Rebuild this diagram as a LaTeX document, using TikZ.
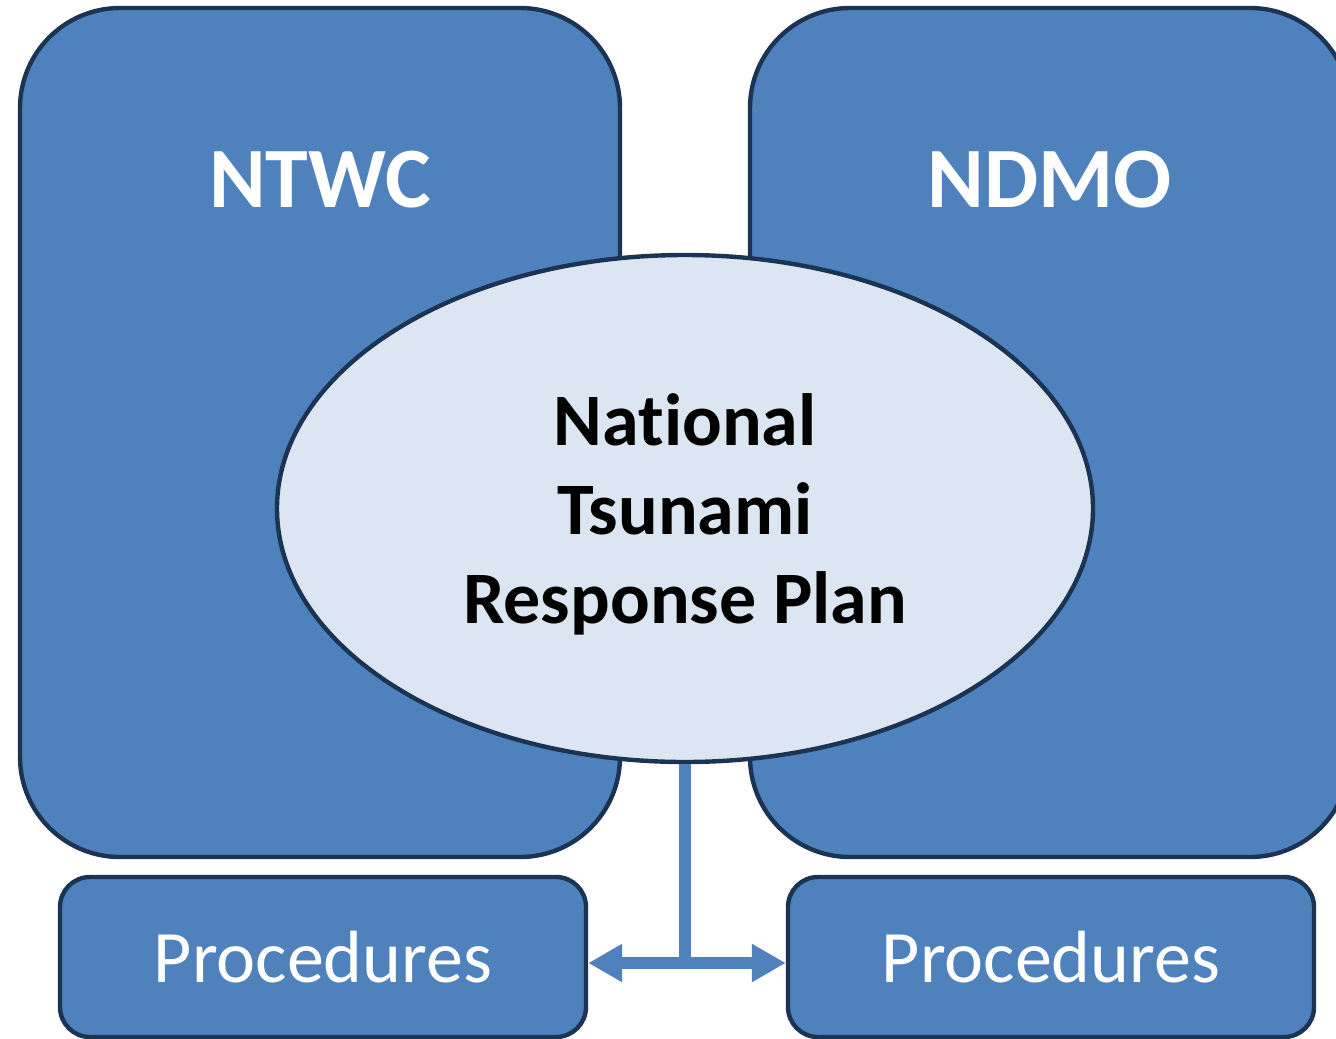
\documentclass[tikz,border=0pt]{standalone}
\usepackage{fontspec}
\setmainfont{Carlito}[RawFeature=-liga]
\usetikzlibrary{shapes.geometric,arrows.meta}
\definecolor{boxblue}{HTML}{4F81BD}
\definecolor{edgenavy}{HTML}{1C3454}
\definecolor{planfill}{HTML}{DCE6F2}
\begin{document}
\begin{tikzpicture}[x=0.5pt,y=-0.5pt,
    agency/.style={draw=edgenavy,line width=2.2pt,fill=boxblue,rounded corners=50pt,
      minimum width=300pt,minimum height=424.5pt,inner sep=0pt},
    procbox/.style={draw=edgenavy,line width=2.2pt,fill=boxblue,rounded corners=15pt,
      minimum width=263pt,minimum height=80pt,inner sep=0pt,
      text=white,font=\fontsize{37}{40}\selectfont},
    agencyname/.style={text=white,font=\bfseries\fontsize{43}{48}\selectfont,anchor=base},
    plan/.style={ellipse,draw=edgenavy,line width=2.2pt,fill=planfill,
      minimum width=408pt,minimum height=253.5pt,inner sep=0pt},
    plantext/.style={align=center,font=\bfseries\fontsize{37}{44.5}\selectfont},
    link/.style={boxblue,line width=6pt},
    linkarrow/.style={link,-{Triangle[length=17pt,width=18pt]}}]
  \useasboundingbox (0,0) rectangle (1336,1038);
  \clip (0,0) rectangle (1336,1038);
  % the two agencies
  \node [agency] (ntwc) at (320,432.5) {};
  \node [agency] (ndmo) at (1050,432.5) {};
  \node [agencyname] (ntwcname) at (320,207) {NTWC};
  \node [agencyname] (ndmoname) at (1050,207) {NDMO};
  % shared plan
  \node [plan] (tsunamiplan) at (685,508.5) {};
  \node [plantext] (plantitle) at (685,514) {National\\Tsunami\\Response Plan};
  % procedures
  \node [procbox] (procL) at (323,957) {Procedures};
  \node [procbox] (procR) at (1051,957) {Procedures};
  % connector
  \coordinate (joint) at (685,963);
  \draw [link] (tsunamiplan.south) -- ([yshift=-3pt]joint);
  \draw [linkarrow] ([xshift=3pt]joint) -- (joint -| procL.east);
  \draw [linkarrow] ([xshift=-3pt]joint) -- (joint -| procR.west);
\end{tikzpicture}
\end{document}
